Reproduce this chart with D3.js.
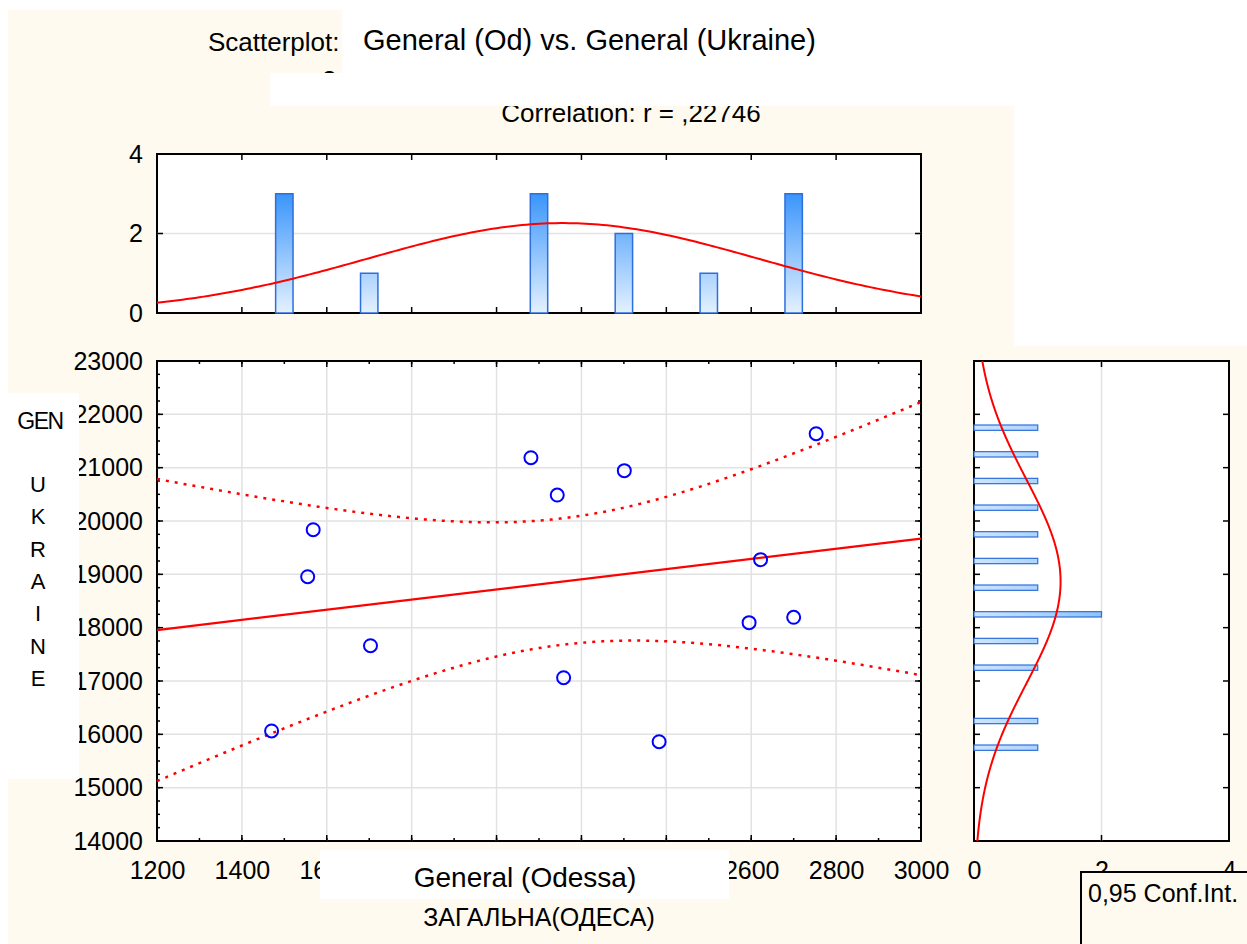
<!DOCTYPE html>
<html>
<head>
<meta charset="utf-8">
<script src="https://cdn.jsdelivr.net/npm/d3@7"></script>
<style>
  body { margin: 0; background: #fff; }
  svg { display: block; font-family: "Liberation Sans", Arial, sans-serif; }
  .frame { fill: #fff; stroke: #000; stroke-width: 2; }
  .grid line { stroke: #e2e2e2; stroke-width: 1.5; }
  .tick line { stroke: #000; stroke-width: 1.5; }
  .lbl text { font-size: 25px; fill: #000; }
  .lbl path, .lbl line { display: none; }
</style>
</head>
<body>
<svg width="1247" height="944"></svg>
<script>
// values
var odessa  = [1470, 1555, 1568, 1703, 2081, 2143, 2158, 2301, 2383, 2595, 2622, 2700, 2753];
var ukraine = [16063, 18956, 19837, 17662, 21187, 20487, 17062, 20944, 15862, 18094, 19275, 18194, 21637];

var xTicks = [1200, 1400, 1600, 1800, 2000, 2200, 2400, 2600, 2800, 3000];
var xLabels = [1200, 1400, 1600, 2600, 2800, 3000]; // the rest sit under the axis-title box
var yTicks = [14000, 15000, 16000, 17000, 18000, 19000, 20000, 21000, 22000, 23000];
var countTicks = [0, 2, 4];
var xBinWidth = 200, yBinWidth = 500;
var tCrit = 2.201; // t(0.975, 11)

var cream = "#fffaef";
var svg = d3.select("svg");

var x = d3.scaleLinear().domain([1200, 3000]).range([157, 921]);
var y = d3.scaleLinear().domain([14000, 23000]).range([841, 361]);
var hy = d3.scaleLinear().domain([0, 4]).range([313, 154]);
var hx = d3.scaleLinear().domain([0, 4]).range([974, 1229]);

// stats
var n = odessa.length;
var mx = d3.mean(odessa), my = d3.mean(ukraine);
var sxx = d3.sum(odessa, function(v) { return (v - mx) * (v - mx); });
var syy = d3.sum(ukraine, function(v) { return (v - my) * (v - my); });
var sxy = d3.sum(odessa, function(v, i) { return (v - mx) * (ukraine[i] - my); });
var slope = sxy / sxx;
var sRes = Math.sqrt((syy - sxy * sxy / sxx) / (n - 2));
var sdx = Math.sqrt(sxx / (n - 1)), sdy = Math.sqrt(syy / (n - 1));

function fit(v) { return my + slope * (v - mx); }
function half(v) { return tCrit * sRes * Math.sqrt(1 / n + (v - mx) * (v - mx) / sxx); }
function normal(v, m, s, bw) {
  return n * bw / (s * Math.sqrt(2 * Math.PI)) * Math.exp(-0.5 * Math.pow((v - m) / s, 2));
}

// background
svg.append("rect").attr("x", 8).attr("y", 10).attr("width", 1006).attr("height", 336).attr("fill", cream);
svg.append("rect").attr("x", 8).attr("y", 346).attr("width", 1239).attr("height", 598).attr("fill", cream);

// gradients
var defs = svg.append("defs");
var gv = defs.append("linearGradient").attr("id", "gv")
  .attr("gradientUnits", "userSpaceOnUse")
  .attr("x1", 0).attr("x2", 0).attr("y1", hy(3)).attr("y2", hy(0));
gv.append("stop").attr("offset", 0).attr("stop-color", "#3a95fb");
gv.append("stop").attr("offset", 1).attr("stop-color", "#e4f1ff");
var gh = defs.append("linearGradient").attr("id", "gh")
  .attr("gradientUnits", "userSpaceOnUse")
  .attr("x1", hx(0)).attr("x2", hx(2)).attr("y1", 0).attr("y2", 0);
gh.append("stop").attr("offset", 0).attr("stop-color", "#cde5fd");
gh.append("stop").attr("offset", 1).attr("stop-color", "#8ec3f9");

function frame(xs, ys) {
  svg.append("rect").attr("class", "frame")
    .attr("x", xs.range()[0]).attr("y", ys.range()[1])
    .attr("width", xs.range()[1] - xs.range()[0])
    .attr("height", ys.range()[0] - ys.range()[1]);
}

// inward ticks on all four sides
function ticks(xs, ys, xv, yv, len) {
  var g = svg.append("g").attr("class", "tick");
  var y0 = ys.range()[0], y1 = ys.range()[1], x0 = xs.range()[0], x1 = xs.range()[1];
  xv.forEach(function(v) {
    g.append("line").attr("x1", xs(v)).attr("x2", xs(v)).attr("y1", y0).attr("y2", y0 - len);
    g.append("line").attr("x1", xs(v)).attr("x2", xs(v)).attr("y1", y1).attr("y2", y1 + len);
  });
  yv.forEach(function(v) {
    g.append("line").attr("y1", ys(v)).attr("y2", ys(v)).attr("x1", x0).attr("x2", x0 + len);
    g.append("line").attr("y1", ys(v)).attr("y2", ys(v)).attr("x1", x1).attr("x2", x1 - len);
  });
}

var line = d3.line();
var fmt = d3.format("d");

// ---------- top histogram ----------
frame(x, hy);
svg.append("g").attr("class", "grid").append("line")
  .attr("x1", x(1200)).attr("x2", x(3000)).attr("y1", hy(2)).attr("y2", hy(2));

var binsX = d3.bin().domain(x.domain()).thresholds(d3.range(1400, 3000, xBinWidth))(odessa);
var bwx = (x(xBinWidth) - x(0)) * 0.205;
svg.append("g").selectAll("rect")
  .data(binsX.filter(function(b) { return b.length > 0; }))
  .enter().append("rect")
  .attr("x", function(b) { return x((b.x0 + b.x1) / 2) - bwx / 2; })
  .attr("width", bwx)
  .attr("y", function(b) { return hy(b.length); })
  .attr("height", function(b) { return hy(0) - hy(b.length); })
  .attr("fill", "url(#gv)")
  .attr("stroke", "#2d6fdc").attr("stroke-width", 1.5);

svg.append("path")
  .attr("d", line(d3.range(1200, 3001, 10).map(function(v) { return [x(v), hy(normal(v, mx, sdx, xBinWidth))]; })))
  .attr("fill", "none").attr("stroke", "#ff0000").attr("stroke-width", 2);

ticks(x, hy, xTicks.slice(1, -1), countTicks, 6);
svg.append("g").attr("class", "lbl").attr("transform", "translate(157,0)")
  .call(d3.axisLeft(hy).tickValues(countTicks).tickSize(0).tickPadding(14).tickFormat(fmt));

// ---------- scatter ----------
frame(x, y);
var grid = svg.append("g").attr("class", "grid");
xTicks.slice(1, -1).forEach(function(v) {
  grid.append("line").attr("x1", x(v)).attr("x2", x(v)).attr("y1", y(14000)).attr("y2", y(23000));
});
yTicks.slice(1, -1).forEach(function(v) {
  grid.append("line").attr("y1", y(v)).attr("y2", y(v)).attr("x1", x(1200)).attr("x2", x(3000));
});
ticks(x, y, d3.range(1300, 3000, 100), d3.range(14250, 23000, 250), 3);
ticks(x, y, xTicks.slice(1, -1), yTicks.slice(1, -1), 6);

var xs = d3.range(1200, 3001, 10);
svg.append("path")
  .attr("d", line([[x(1200), y(fit(1200))], [x(3000), y(fit(3000))]]))
  .attr("stroke", "#ff0000").attr("stroke-width", 2.2).attr("fill", "none");
[1, -1].forEach(function(sg) {
  svg.append("path")
    .attr("d", line(xs.map(function(v) { return [x(v), y(fit(v) + sg * half(v))]; })))
    .attr("fill", "none").attr("stroke", "#ff0000").attr("stroke-width", 2.5)
    .attr("stroke-dasharray", "3,6");
});

svg.append("g").selectAll("circle")
  .data(odessa).enter().append("circle")
  .attr("cx", function(d) { return x(d); })
  .attr("cy", function(d, i) { return y(ukraine[i]); })
  .attr("r", 6.5)
  .attr("fill", "none").attr("stroke", "#0000ff").attr("stroke-width", 2);

svg.append("g").attr("class", "lbl").attr("transform", "translate(157,0)")
  .call(d3.axisLeft(y).tickValues(yTicks).tickSize(0).tickPadding(14).tickFormat(fmt));
svg.append("g").attr("class", "lbl").attr("transform", "translate(0,841)")
  .call(d3.axisBottom(x).tickValues(xLabels).tickSize(0).tickPadding(20).tickFormat(fmt));

// ---------- right histogram ----------
frame(hx, y);
svg.append("g").attr("class", "grid").append("line")
  .attr("x1", hx(2)).attr("x2", hx(2)).attr("y1", y(14000)).attr("y2", y(23000));

var binsY = d3.bin().domain(y.domain()).thresholds(d3.range(14500, 23000, yBinWidth))(ukraine);
var bhy = (y(0) - y(yBinWidth)) * 0.2;
svg.append("g").selectAll("rect")
  .data(binsY.filter(function(b) { return b.length > 0; }))
  .enter().append("rect")
  .attr("x", hx(0))
  .attr("width", function(b) { return hx(b.length) - hx(0); })
  .attr("y", function(b) { return y((b.x0 + b.x1) / 2) - bhy / 2; })
  .attr("height", bhy)
  .attr("fill", "url(#gh)")
  .attr("stroke", "#2d6fdc").attr("stroke-width", 1.2);

svg.append("path")
  .attr("d", line(d3.range(14000, 23001, 25).map(function(v) { return [hx(normal(v, my, sdy, yBinWidth)), y(v)]; })))
  .attr("fill", "none").attr("stroke", "#ff0000").attr("stroke-width", 2);

ticks(hx, y, [2], yTicks.slice(1, -1), 6);
svg.append("g").attr("class", "lbl").attr("transform", "translate(0,841)")
  .call(d3.axisBottom(hx).tickValues(countTicks).tickSize(0).tickPadding(20).tickFormat(fmt));

// ---------- titles and label boxes ----------
svg.append("text").attr("x", 208).attr("y", 51).attr("font-size", 26).text("Scatterplot:");
svg.append("text").attr("x", 322).attr("y", 89).attr("font-size", 26).text("2:");
svg.append("text").attr("x", 631).attr("y", 122).attr("font-size", 26).attr("text-anchor", "middle")
  .text("Correlation: r = ,22746");

svg.append("rect").attr("x", 342).attr("y", 0).attr("width", 905).attr("height", 106).attr("fill", "#fff");
svg.append("rect").attr("x", 270).attr("y", 73).attr("width", 80).attr("height", 33).attr("fill", "#fff");
svg.append("rect").attr("x", 1014).attr("y", 106).attr("width", 233).attr("height", 240).attr("fill", "#fff");
svg.append("text").attr("x", 363).attr("y", 50).attr("font-size", 29).text("General (Od) vs. General (Ukraine)");

svg.append("rect").attr("x", 7).attr("y", 393).attr("width", 72).attr("height", 386).attr("fill", "#fff");
svg.append("text").attr("x", 40).attr("y", 429).attr("font-size", 23).attr("letter-spacing", -1.5)
  .attr("text-anchor", "middle").text("GEN");
"UKRAINE".split("").forEach(function(c, i) {
  svg.append("text").attr("x", 38).attr("y", 492 + i * 32.3).attr("font-size", 22)
    .attr("text-anchor", "middle").text(c);
});

svg.append("rect").attr("x", 320).attr("y", 850).attr("width", 409).attr("height", 49).attr("fill", "#fff");
svg.append("text").attr("x", 525).attr("y", 887).attr("font-size", 28).attr("text-anchor", "middle")
  .text("General (Odessa)");
svg.append("text").attr("x", 539).attr("y", 926).attr("font-size", 25).attr("text-anchor", "middle")
  .text("ЗАГАЛЬНА(ОДЕСА)");

svg.append("rect").attr("x", 1081).attr("y", 872).attr("width", 180).attr("height", 90)
  .attr("fill", cream).attr("stroke", "#000").attr("stroke-width", 2);
svg.append("text").attr("x", 1088).attr("y", 902).attr("font-size", 25).text("0,95 Conf.Int.");
</script>
</body>
</html>
